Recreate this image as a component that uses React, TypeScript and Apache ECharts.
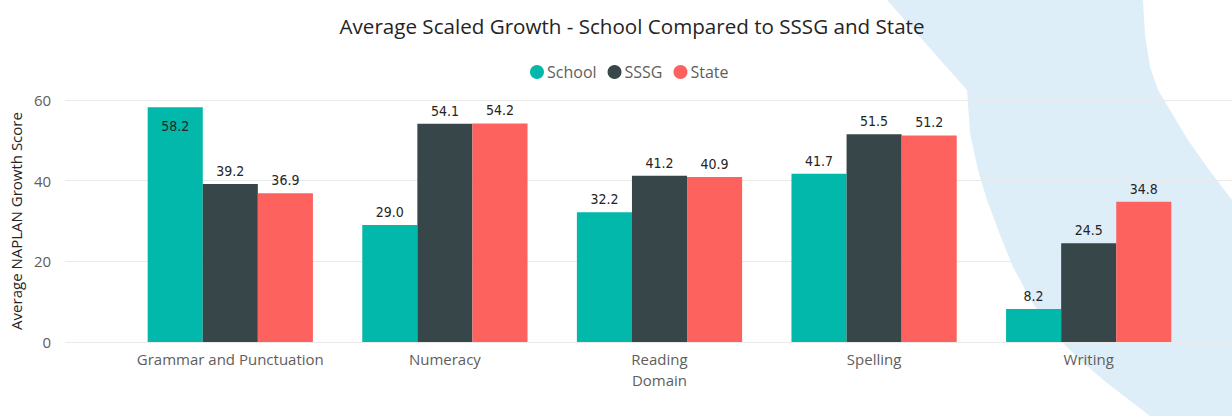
import React, { useEffect, useRef } from "react";
import * as echarts from "echarts";

const categories = ["Grammar and Punctuation", "Numeracy", "Reading", "Spelling", "Writing"];
const schoolValues = [58.2, 29.0, 32.2, 41.7, 8.2];
const sssgValues = [39.2, 54.1, 41.2, 51.5, 24.5];
const stateValues = [36.9, 54.2, 40.9, 51.2, 34.8];
const seriesNames = ["School", "SSSG", "State"];
const yMin = 0;
const yMax = 60;
const yInterval = 20;

const colors = ["#01B8AA", "#374649", "#FD625E"];
const labelFont = "'DejaVu Sans Condensed', 'Liberation Sans Narrow', Roboto, sans-serif";
const uiFont = "'Open Sans', 'Noto Sans', sans-serif";

export default function App() {
  const ref = useRef<HTMLDivElement>(null);
  useEffect(() => {
    if (!ref.current) return;
    const chart = echarts.init(ref.current, undefined, { renderer: "svg" });
    const mkData = (vals: number[]) =>
      vals.map((v) =>
        v > yMax - 3
          ? { value: v, label: { position: "insideTop", distance: 12 } }
          : v
      );
    const allValues = [schoolValues, sssgValues, stateValues];
    chart.setOption({
      animation: false,
      backgroundColor: "#ffffff",
      title: {
        text: "Average Scaled Growth - School Compared to SSSG and State",
        left: 632,
        top: 10,
        textAlign: "center",
        padding: [5, 0, 5, 0],
        textStyle: { fontFamily: uiFont, fontSize: 20.6, fontWeight: "normal", color: "#252423" },
      },
      legend: {
        data: seriesNames,
        top: 59,
        left: 525,
        icon: "circle",
        itemWidth: 14,
        itemHeight: 14,
        itemGap: 11,
        textStyle: { fontFamily: uiFont, fontSize: 16, color: "#605e5c", padding: [0, 0, 0, -2] },
      },
      graphic: [
        {
          type: "polygon",
          z: -10,
          silent: true,
          shape: {
            points: [
              [887, 0], [967, 90], [970, 133], [978, 170], [987, 200], [1000, 235], [1013, 267],
              [1032, 302], [1053, 333], [1080, 360], [1107, 383], [1150, 416], [1232, 416],
              [1232, 200], [1207, 167], [1188, 140], [1170, 110], [1158, 90], [1150, 67],
              [1145, 35], [1143, 0],
            ],
          },
          style: { fill: "#deeef8" },
        },
      ],
      grid: [
        { left: 62, right: 0, top: 100, bottom: 74 },
        { left: 123, right: 36, top: 100, bottom: 74 },
      ],
      xAxis: [
        { type: "value", gridIndex: 0, show: false, min: 0, max: 1 },
        {
          type: "category",
          gridIndex: 1,
          data: categories,
          axisLine: { show: false },
          axisTick: { show: false },
          axisLabel: { interval: 0, fontFamily: uiFont, fontSize: 15, color: "#605e5c", margin: 9 },
          name: "Domain",
          nameLocation: "middle",
          nameGap: 30,
          nameTextStyle: { fontFamily: uiFont, fontSize: 15, color: "#605e5c" },
        },
      ],
      yAxis: [
        {
          type: "value",
          gridIndex: 0,
          min: yMin,
          max: yMax,
          interval: yInterval,
          axisLine: { show: false },
          axisTick: { show: false },
          axisLabel: { fontFamily: uiFont, fontSize: 15, color: "#605e5c", margin: 14 },
          splitLine: { lineStyle: { color: "#e9e9e9", width: 1 } },
          name: "Average NAPLAN Growth Score",
          nameLocation: "middle",
          nameGap: 36,
          nameTextStyle: { fontFamily: uiFont, fontSize: 15, color: "#252423" },
        },
        {
          type: "value",
          gridIndex: 1,
          min: yMin,
          max: yMax,
          interval: yInterval,
          show: false,
          splitLine: { show: false },
        },
      ],
      series: seriesNames.map((name, i) => ({
        name,
        type: "bar",
        xAxisIndex: 1,
        yAxisIndex: 1,
        data: mkData(allValues[i]),
        barGap: "0%",
        barCategoryGap: "23%",
        itemStyle: { color: colors[i] },
        label: {
          show: true,
          position: "top",
          distance: 6,
          formatter: (p: any) => Number(p.value).toFixed(1),
          fontFamily: labelFont,
          fontSize: 14,
          color: "#252423",
        },
      })),
    });
    return () => chart.dispose();
  }, []);
  return (
    <div
      ref={ref}
      style={{ position: "fixed", left: 0, top: 0, width: 1232, height: 416 }}
    />
  );
}
